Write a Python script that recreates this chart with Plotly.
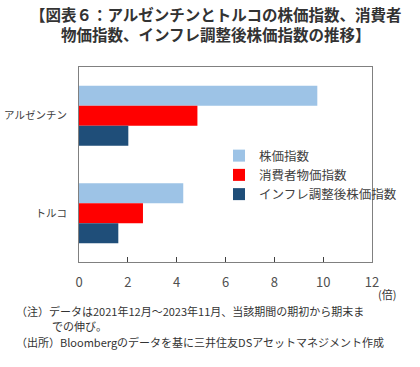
import plotly.graph_objects as go

categories = ["アルゼンチン", "トルコ"]
series_names = ["株価指数", "消費者物価指数", "インフレ調整後株価指数"]
stock_index = [9.76, 4.27]
cpi = [4.85, 2.62]
real_stock = [2.02, 1.61]
x_ticks = [0, 2, 4, 6, 8, 10, 12]
title_lines = ["【図表６：アルゼンチンとトルコの株価指数、消費者", "物価指数、インフレ調整後株価指数の推移】"]

colors = ["#9DC3E6", "#FF0000", "#1F4E79"]
FONT = "Noto Sans CJK JP"

fig = go.Figure()
for name, vals, c in zip(series_names, [stock_index, cpi, real_stock], colors):
    fig.add_trace(go.Bar(
        y=categories, x=vals, name=name, orientation="h",
        marker=dict(color=c, line=dict(width=0)),
    ))

W, H = 420, 367
# plot box in page pixels: x 79..372, y 67..262
L, R, T, B = 79, 420 - 372, 67, 367 - 262
ph = H - T - B
pw = W - L - R

def py(ypage):
    return (H - B - ypage) / ph

def px(xpage):
    return (xpage - L) / pw

fig.update_layout(
    width=W, height=H,
    margin=dict(l=L, r=R, t=T, b=B, autoexpand=False),
    paper_bgcolor="white", plot_bgcolor="white",
    barmode="group", bargap=0.385, bargroupgap=0,
    font=dict(family=FONT, color="#404040", size=12),
    showlegend=True,
    legend=dict(
        x=px(219), y=py(141), xanchor="left", yanchor="top",
        bgcolor="rgba(0,0,0,0)", font=dict(size=12.5, color="#404040"),
        traceorder="normal",
    ),
    xaxis=dict(
        range=[0, 12], tickvals=x_ticks, ticks="inside", ticklen=5,
        tickcolor="#404040", showgrid=False, zeroline=False,
        showline=True, linecolor="#808080", mirror=True, linewidth=1,
        tickfont=dict(size=13, color="#505050"), ticklabelstandoff=8,
        automargin=False,
    ),
    yaxis=dict(
        autorange="reversed", showgrid=False, ticks="",
        showline=True, linecolor="#808080", mirror=True, linewidth=1,
        tickfont=dict(size=10.5, color="#404040"), automargin=False,
        ticklabelstandoff=9,
    ),
)

for text, yp in zip(title_lines, [14, 34]):
    fig.add_annotation(
        text="<b>" + text + "</b>", xref="paper", yref="paper",
        x=px(216), y=py(yp), xanchor="center", yanchor="middle", showarrow=False,
        font=dict(size=15.5, color="#333333", family=FONT),
    )

notes = [
    ("(倍)", 376, 294),
    ("（注）データは2021年12月～2023年11月、当該期間の期初から期末ま", 14, 311),
    ("での伸び。", 50, 326),
    ("（出所）Bloombergのデータを基に三井住友DSアセットマネジメント作成", 14, 342),
]
for text, xp, yp in notes:
    fig.add_annotation(
        text=text, xref="paper", yref="paper", x=px(xp), y=py(yp),
        xanchor="left", yanchor="middle", showarrow=False,
        font=dict(size=11, color="#333333", family=FONT),
    )

fig.write_html(
    "out.html",
    config={"displayModeBar": False},
    post_script="document.body.style.margin='0';document.body.style.overflow='hidden';",
)
